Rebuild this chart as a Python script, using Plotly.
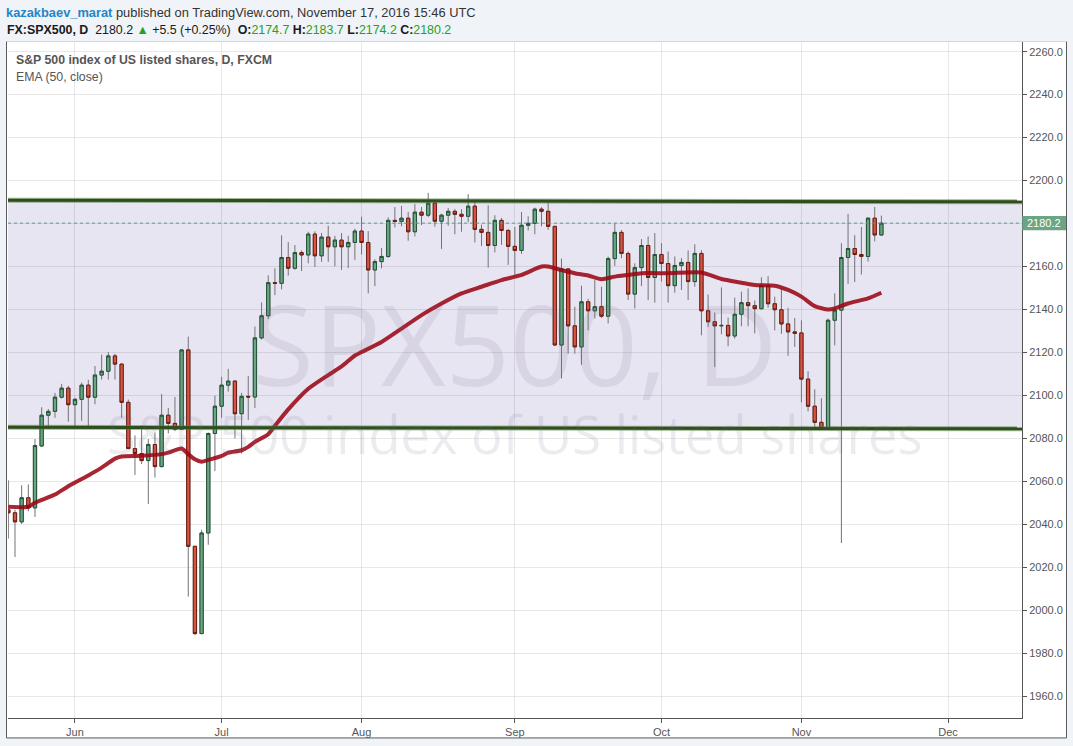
import plotly.graph_objects as go
import pandas as pd

# ---------------- data ----------------
dates = [d.strftime("%Y-%m-%d") for d in pd.bdate_range("2016-05-18", "2016-11-17")]

opens = [2046.8, 2045.4, 2041.2, 2052.4, 2047.7, 2076.5, 2090.8, 2092.6, 2099.2, 2103.4,
         2095.7, 2098.2, 2104.8, 2099.2, 2109.5, 2111.3, 2118.4, 2114.6, 2096.8, 2075.3,
         2073.0, 2069.7, 2077.2, 2066.9, 2090.8, 2087.0, 2084.2, 2121.2, 2029.8, 1989.2,
         2036.0, 2082.3, 2095.0, 2104.8, 2106.7, 2091.5, 2099.6, 2099.3, 2126.8, 2137.1,
         2152.5, 2152.2, 2164.2, 2159.2, 2166.5, 2165.4, 2175.1, 2165.0, 2173.7, 2169.2,
         2172.3, 2169.2, 2171.2, 2176.5, 2171.2, 2158.4, 2162.3, 2164.7, 2181.5, 2181.0,
         2182.5, 2176.2, 2185.3, 2183.9, 2189.5, 2181.1, 2183.9, 2185.7, 2184.3, 2183.4,
         2188.1, 2177.3, 2175.9, 2169.8, 2181.5, 2176.8, 2169.4, 2167.5, 2179.2, 2180.1,
         2186.7, 2185.7, 2178.7, 2123.5, 2158.9, 2132.4, 2122.6, 2143.6, 2139.4, 2141.3,
         2136.9, 2163.7, 2175.9, 2166.1, 2147.2, 2159.5, 2169.8, 2154.9, 2165.6, 2161.4,
         2151.1, 2160.5, 2161.9, 2153.0, 2166.1, 2139.4, 2134.3, 2132.4, 2132.6, 2127.7,
         2137.8, 2143.2, 2141.8, 2140.4, 2151.1, 2142.7, 2139.9, 2133.3, 2129.6, 2129.1,
         2107.6, 2095.0, 2087.5, 2084.7, 2135.0, 2139.7, 2164.2, 2168.4, 2165.6, 2164.7,
         2182.5, 2174.7]
highs = [2060.5, 2046.9, 2058.2, 2058.6, 2079.7, 2094.5, 2093.7, 2101.2, 2105.4, 2104.5,
         2098.9, 2106.0, 2107.3, 2113.7, 2119.0, 2120.2, 2119.4, 2114.8, 2098.1, 2081.4,
         2086.1, 2079.7, 2082.8, 2100.7, 2094.2, 2099.3, 2121.5, 2127.4, 2030.0, 2037.5,
         2082.8, 2099.9, 2108.7, 2112.4, 2107.0, 2101.2, 2109.1, 2132.1, 2143.3, 2155.9,
         2159.2, 2174.5, 2171.4, 2170.0, 2167.5, 2176.2, 2176.4, 2175.6, 2179.0, 2174.3,
         2175.6, 2174.3, 2177.6, 2183.2, 2176.5, 2163.4, 2168.6, 2182.9, 2187.7, 2188.2,
         2185.4, 2189.1, 2187.7, 2194.3, 2190.0, 2184.6, 2187.3, 2186.8, 2186.7, 2193.7,
         2190.1, 2179.5, 2188.5, 2183.9, 2182.6, 2177.5, 2178.4, 2185.4, 2183.4, 2187.4,
         2187.6, 2190.4, 2179.0, 2163.7, 2159.2, 2141.3, 2151.1, 2145.0, 2153.7, 2150.6,
         2164.7, 2180.3, 2177.0, 2167.0, 2161.5, 2172.8, 2174.0, 2175.6, 2170.9, 2167.0,
         2164.7, 2163.9, 2167.5, 2170.4, 2167.6, 2147.0, 2138.6, 2150.3, 2136.3, 2145.5,
         2148.3, 2149.8, 2144.2, 2155.0, 2155.5, 2146.0, 2149.8, 2140.8, 2136.1, 2135.0,
         2111.3, 2102.9, 2098.7, 2135.8, 2147.5, 2170.9, 2184.5, 2174.6, 2178.4, 2182.9,
         2187.7, 2183.7]
lows = [2033.4, 2024.8, 2040.2, 2046.1, 2043.5, 2076.1, 2084.4, 2089.6, 2098.6, 2087.8,
        2084.4, 2088.2, 2084.4, 2095.9, 2107.4, 2107.4, 2107.4, 2089.6, 2075.0, 2063.0,
        2068.1, 2049.5, 2061.8, 2066.5, 2082.3, 2083.4, 2084.0, 2006.4, 1988.4, 1988.8,
        2030.5, 2064.8, 2089.6, 2101.8, 2080.0, 2073.0, 2088.6, 2094.2, 2126.0, 2135.5,
        2146.7, 2149.4, 2155.8, 2158.5, 2157.9, 2161.5, 2159.8, 2162.2, 2162.2, 2160.1,
        2158.4, 2159.3, 2163.1, 2165.6, 2147.5, 2150.9, 2159.1, 2164.0, 2178.2, 2178.7,
        2172.0, 2174.0, 2179.3, 2183.0, 2178.5, 2168.2, 2179.0, 2175.0, 2176.2, 2180.6,
        2171.2, 2169.6, 2159.5, 2166.6, 2170.1, 2160.8, 2156.1, 2165.9, 2176.8, 2175.0,
        2178.7, 2177.1, 2123.0, 2107.9, 2119.4, 2119.4, 2114.3, 2130.3, 2135.8, 2136.1,
        2133.5, 2160.3, 2163.9, 2144.4, 2140.5, 2150.9, 2144.4, 2143.2, 2153.0, 2143.2,
        2147.8, 2149.1, 2144.4, 2150.6, 2128.0, 2131.9, 2113.2, 2128.5, 2122.9, 2126.5,
        2132.2, 2132.2, 2128.9, 2140.0, 2140.8, 2130.3, 2128.7, 2118.4, 2122.6, 2096.8,
        2092.6, 2084.7, 2084.2, 2084.5, 2123.3, 2031.3, 2151.9, 2152.8, 2156.3, 2162.3,
        2171.7, 2174.2]
closes = [2045.4, 2041.2, 2052.4, 2047.7, 2076.7, 2090.8, 2092.6, 2099.2, 2103.4, 2095.7,
          2098.2, 2104.8, 2099.2, 2109.5, 2111.3, 2118.4, 2114.6, 2096.8, 2075.3, 2073.0,
          2069.7, 2077.2, 2066.9, 2090.8, 2087.0, 2084.2, 2121.2, 2029.8, 1989.2, 2036.0,
          2082.3, 2095.0, 2104.8, 2106.7, 2091.5, 2099.6, 2099.3, 2126.8, 2137.1, 2152.5,
          2152.2, 2164.2, 2159.2, 2166.5, 2165.4, 2175.1, 2165.0, 2173.7, 2169.2, 2172.3,
          2169.2, 2171.2, 2176.5, 2171.2, 2158.4, 2162.3, 2164.7, 2181.5, 2181.0, 2182.5,
          2176.2, 2185.3, 2183.9, 2189.5, 2181.1, 2183.9, 2185.7, 2184.3, 2183.4, 2188.1,
          2177.3, 2175.9, 2169.8, 2181.5, 2176.8, 2169.4, 2167.5, 2179.2, 2180.1, 2186.7,
          2185.7, 2178.7, 2123.5, 2158.9, 2132.4, 2122.6, 2143.6, 2139.4, 2141.3, 2136.9,
          2163.7, 2175.9, 2166.1, 2147.2, 2159.5, 2169.8, 2154.9, 2165.6, 2161.4, 2151.1,
          2160.5, 2161.9, 2153.0, 2166.1, 2139.4, 2134.3, 2132.4, 2132.6, 2127.7, 2137.8,
          2143.2, 2141.8, 2140.4, 2151.1, 2142.7, 2139.9, 2133.3, 2129.6, 2128.9, 2107.6,
          2095.0, 2087.5, 2084.7, 2135.0, 2139.7, 2164.2, 2168.4, 2165.6, 2164.7, 2182.5,
          2174.7, 2180.2]

# EMA(50, close) at selected bars (bar index -> value)
ema_bar = [0, 3, 4, 7, 9, 12, 14, 16, 17, 20, 23, 24, 26, 27, 28, 29, 30, 32, 33, 35,
           36, 37, 39, 40, 42, 45, 48, 50, 52, 53, 56, 59, 62, 65, 68, 71, 74, 77, 80, 81,
           83, 85, 87, 89, 91, 93, 95, 99, 104, 107, 110, 112, 115, 117, 119, 121, 123, 124,
           126, 129, 131]
ema_val = [2048.2, 2048.2, 2050.1, 2053.9, 2057.8, 2062.8, 2066.4, 2070.6, 2071.6, 2071.9,
           2072.7, 2073.4, 2075.3, 2072.7, 2070.3, 2069.2, 2070.0, 2071.9, 2073.4, 2074.5,
           2076.1, 2078.4, 2082.0, 2085.9, 2093.5, 2103.1, 2109.5, 2113.5, 2118.6, 2120.2,
           2124.9, 2131.1, 2137.4, 2142.8, 2147.5, 2150.6, 2153.7, 2156.1, 2160.0, 2160.0,
           2158.4, 2156.9, 2155.8, 2154.1, 2155.3, 2156.1, 2156.9, 2156.9, 2157.2, 2154.2,
           2152.5, 2151.4, 2151.1, 2149.1, 2146.0, 2141.6, 2140.0, 2140.5, 2142.8, 2145.2,
           2147.8]

# drawn channel (left edge, right edge of the pane)
band_top = [2190.9, 2190.1]
band_bottom = [2085.2, 2084.5]
last_price = 2180.2

month_ticks = ["2016-06-01", "2016-07-01", "2016-08-01", "2016-09-01",
               "2016-10-03", "2016-11-01", "2016-12-01"]
month_labels = ["Jun", "Jul", "Aug", "Sep", "Oct", "Nov", "Dec"]
y_ticks = list(range(1960, 2261, 20))
x_range = ["2016-05-18 10:48", "2016-12-16 14:24"]
y_range = [1949.9, 2264.5]

# ---------------- figure ----------------
xs = [d + " 12:00" for d in dates]
body_hi = [max(o, c) for o, c in zip(opens, closes)]
body_lo = [min(o, c) for o, c in zip(opens, closes)]

UP_FILL, UP_LINE = "#6ba583", "#225437"
DN_FILL, DN_LINE = "#d75442", "#6b1d12"
WICK = "#737375"
FONT = "Liberation Sans, Arial, sans-serif"

fig = go.Figure()

fig.add_trace(go.Scatter(
    x=[dates[i] + " 12:00" for i in ema_bar], y=ema_val, mode="lines",
    line=dict(color="rgba(155,5,20,0.87)", width=4, shape="spline", smoothing=0.6),
    hoverinfo="skip", showlegend=False))

fig.add_trace(go.Candlestick(
    x=xs, open=opens, high=highs, low=lows, close=closes,
    increasing=dict(line=dict(color=WICK, width=1), fillcolor=WICK),
    decreasing=dict(line=dict(color=WICK, width=1), fillcolor=WICK),
    whiskerwidth=0, showlegend=False, hoverinfo="skip"))

fig.add_trace(go.Candlestick(
    x=xs, open=opens, high=body_hi, low=body_lo, close=closes,
    increasing=dict(line=dict(color=UP_LINE, width=1), fillcolor=UP_FILL),
    decreasing=dict(line=dict(color=DN_LINE, width=1), fillcolor=DN_FILL),
    whiskerwidth=0, showlegend=False))

W, H = 1073, 746
ML, MR, MT, MB = 8, 51, 42, 26
PW, PH = W - ML - MR, H - MT - MB


def px_x(px):
    return (px - ML) / PW


def px_y(py):
    return (H - MB - py) / PH


shapes = [
    # white chart pane
    dict(type="rect", xref="paper", yref="paper", layer="below",
         x0=px_x(6.5), x1=px_x(1066.5), y0=px_y(740), y1=px_y(41.5),
         fillcolor="white", line=dict(color="#5a5a5a", width=1)),
    dict(type="line", xref="paper", yref="paper", layer="below",
         x0=px_x(6.5), x1=px_x(1066.5), y0=px_y(41.5), y1=px_y(41.5),
         line=dict(color="#d4d6da", width=1)),
    # channel fill
    dict(type="path", xref="paper", yref="y", layer="below",
         path=f"M 0,{band_bottom[0]} L 1,{band_bottom[1]} L 1,{band_top[1]} L 0,{band_top[0]} Z",
         fillcolor="#e8e5f2", line=dict(width=0)),
]
for yl, yr in [(band_top[0], band_top[1]), (band_bottom[0], band_bottom[1])]:
    shapes.append(dict(type="line", xref="paper", yref="y", x0=0, x1=1, y0=yl, y1=yr,
                       line=dict(color="rgba(90,125,70,0.55)", width=5)))
    shapes.append(dict(type="line", xref="paper", yref="y", x0=0, x1=1, y0=yl, y1=yr,
                       line=dict(color="#2c4f1c", width=3)))
# last price dotted line + axis label box
shapes.append(dict(type="line", xref="paper", yref="y", x0=0, x1=1,
                   y0=last_price, y1=last_price,
                   line=dict(color="#5d9b88", width=1, dash="dot")))
shapes.append(dict(type="rect", xref="paper", yref="y", x0=1.0003, x1=px_x(1066),
                   y0=last_price - 3.3, y1=last_price + 3.3,
                   fillcolor="#6ba583", line=dict(width=0)))

WM_COLOR = "rgba(110,100,130,0.13)"
annotations = [
    dict(xref="paper", yref="y", x=(1.0003 + px_x(1066)) / 2, y=last_price,
         text=f"{last_price:.1f}", showarrow=False, xanchor="center", yanchor="middle",
         font=dict(family=FONT, size=11, color="white")),
    # watermark (two lines, one text block)
    dict(xref="paper", yref="paper", x=px_x(514.5), y=px_y(368),
         text="<span style='font-size:112px'>SPX500, D</span><br>"
              "S&P 500 index of US listed shares",
         showarrow=False, xanchor="center", yanchor="middle", align="center",
         font=dict(family="Open Sans, Noto Sans, sans-serif", size=52.5, color=WM_COLOR)),
    # pane titles
    dict(xref="paper", yref="paper", x=px_x(14), y=px_y(60),
         text="<b>S&P 500 index of US listed shares, D, FXCM</b>",
         showarrow=False, xanchor="left", yanchor="middle",
         font=dict(family=FONT, size=12.3, color="#555555")),
    dict(xref="paper", yref="paper", x=px_x(14), y=px_y(77),
         text="EMA (50, close)", showarrow=False, xanchor="left", yanchor="middle",
         font=dict(family=FONT, size=12.3, color="#555555")),
    # header
    dict(xref="paper", yref="paper", x=px_x(4), y=px_y(12),
         text="<span style='color:#1f86c8'><b>kazakbaev_marat</b></span> published on "
              "TradingView.com, November 17, 2016 15:46 UTC",
         showarrow=False, xanchor="left", yanchor="middle",
         font=dict(family=FONT, size=12.85, color="#333333")),
    dict(xref="paper", yref="paper", x=px_x(5), y=px_y(30),
         text="<b>FX:SPX500, D</b>  2180.2 <span style='color:#23a123'>▲</span> +5.5 (+0.25%) "
              " <b>O:</b><span style='color:#23a123'>2174.7</span> "
              "<b>H:</b><span style='color:#23a123'>2183.7</span> "
              "<b>L:</b><span style='color:#23a123'>2174.2</span> "
              "<b>C:</b><span style='color:#23a123'>2180.2</span>",
         showarrow=False, xanchor="left", yanchor="middle",
         font=dict(family=FONT, size=12.4, color="#1a1a1a")),
]

fig.update_layout(
    width=W, height=H,
    margin=dict(l=ML, r=MR, t=MT, b=MB, pad=0),
    paper_bgcolor="#f0f3f8", plot_bgcolor="white",
    showlegend=False, hovermode=False,
    shapes=shapes, annotations=annotations,
    xaxis=dict(
        type="date", range=x_range,
        rangebreaks=[dict(bounds=["sat", "mon"])],
        rangeslider=dict(visible=False),
        tickvals=[t + " 12:00" for t in month_ticks], ticktext=month_labels,
        showgrid=True, gridcolor="rgba(0,0,0,0.09)", gridwidth=1,
        ticks="outside", ticklen=4, tickcolor="#555555",
        showline=True, linecolor="#555555", linewidth=1, zeroline=False,
        tickfont=dict(family=FONT, size=11, color="#555555"),
    ),
    yaxis=dict(
        side="right", range=y_range, tickvals=y_ticks,
        # the 2180 label is hidden under the last-price marker, as in the original
        ticktext=["" if v == 2180 else f"{v:.1f}" for v in y_ticks],
        showgrid=True, gridcolor="rgba(0,0,0,0.09)", gridwidth=1,
        ticks="outside", ticklen=4, tickcolor="#555555",
        showline=True, linecolor="#555555", linewidth=1, zeroline=False,
        tickfont=dict(family=FONT, size=11, color="#555555"),
    ),
)

fig.write_html("out.html", config={"displayModeBar": False},
               post_script="document.body.style.margin='0px';")
